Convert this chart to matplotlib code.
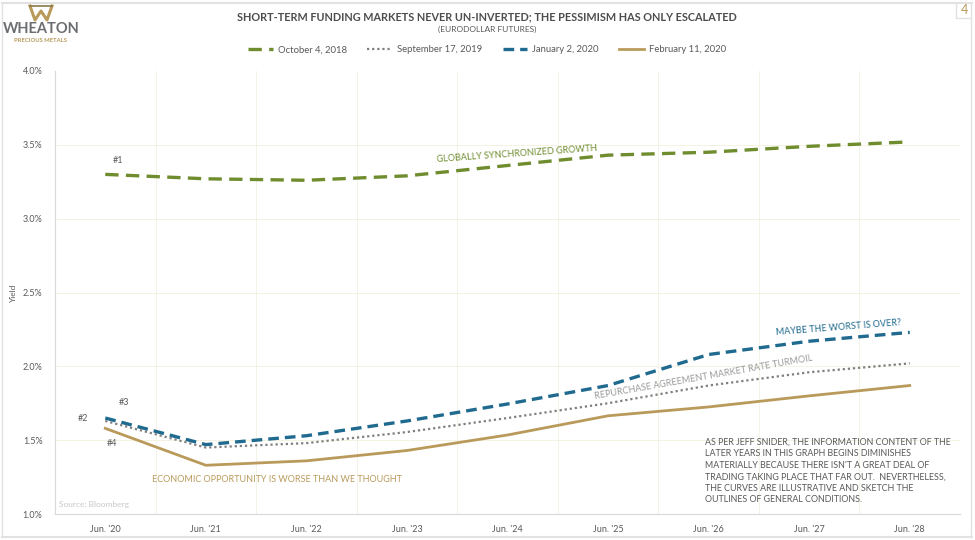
import matplotlib
matplotlib.use("Agg")
import matplotlib.pyplot as plt
from matplotlib.lines import Line2D
import numpy as np

plt.rcParams['font.family'] = ['Lato', 'DejaVu Sans']

categories = ["Jun. '20", "Jun. '21", "Jun. '22", "Jun. '23", "Jun. '24",
              "Jun. '25", "Jun. '26", "Jun. '27", "Jun. '28"]
oct_2018 = [3.30, 3.27, 3.26, 3.29, 3.36, 3.43, 3.45, 3.49, 3.52]
sep_2019 = [1.63, 1.45, 1.48, 1.555, 1.65, 1.75, 1.87, 1.96, 2.02]
jan_2020 = [1.65, 1.47, 1.53, 1.63, 1.745, 1.87, 2.08, 2.17, 2.23]
feb_2020 = [1.58, 1.33, 1.36, 1.43, 1.535, 1.665, 1.725, 1.80, 1.87]
series_labels = ["October 4, 2018", "September 17, 2019", "January 2, 2020", "February 11, 2020"]
yticks = [1.0, 1.5, 2.0, 2.5, 3.0, 3.5, 4.0]

GREEN = "#6f8d2f"
GREY = "#7f7f7f"
BLUE = "#1f6a8e"
TAN = "#b99a5b"
TXT = "#595959"

fig = plt.figure(figsize=(9.75, 5.4), dpi=100)
W, H = 975, 540
ax = fig.add_axes([55 / W, 1 - 514 / H, (960 - 55) / W, (514 - 71) / H])

x = np.arange(len(categories))
ax.plot(x, oct_2018, color=GREEN, lw=2.4, dashes=(4, 2.2))
ax.plot(x, sep_2019, color=GREY, lw=1.6, dashes=(1, 1.3))
ax.plot(x, jan_2020, color=BLUE, lw=2.4, dashes=(3.2, 1.8))
ax.plot(x, feb_2020, color=TAN, lw=2.0)

ax.set_xlim(-0.5, 8.5)
ax.set_ylim(1.0, 4.0)
ax.set_yticks(yticks)
ax.set_yticklabels([f"{v:.1f}%" for v in yticks], fontsize=6.5, color=TXT)
ax.set_xticks(x)
ax.set_xticklabels(categories, fontsize=6.5, color=TXT)
ax.tick_params(length=0, pad=8)
ax.tick_params(axis='y', pad=9)
for yv in yticks[1:-1]:
    ax.axhline(yv, color="#f3f1dc", lw=0.6, zorder=0)
for xv in np.arange(0.5, 8, 1.0):
    ax.axvline(xv, color="#f3f1e4", lw=0.6, zorder=0)
for s in ['top', 'right']:
    ax.spines[s].set_visible(False)
ax.spines['left'].set_color("#d9d9d9")
ax.spines['bottom'].set_color("#d9d9d9")
ax.spines['left'].set_linewidth(0.8)
ax.spines['bottom'].set_linewidth(0.8)
ax.set_ylabel("Yield", fontsize=6, color=TXT, labelpad=4)

# annotations
ax.text(0.07, 3.38, "#1", fontsize=6.5, color=TXT)
ax.text(-0.17, 1.645, "#2", fontsize=6.5, color=TXT, ha='right', va='center')
ax.text(0.13, 1.74, "#3", fontsize=6.5, color=TXT)
ax.text(0.01, 1.475, "#4", fontsize=6.5, color=TXT, va='center')
ax.text(4.09, 3.44, "GLOBALLY SYNCHRONIZED GROWTH", fontsize=6.5, color=GREEN,
        rotation=4, ha='center', va='center')
ax.text(7.29, 2.265, "MAYBE THE WORST IS OVER?", fontsize=6.5, color=BLUE,
        rotation=4.5, ha='center', va='center')
ax.text(5.95, 1.925, "REPURCHASE AGREEMENT MARKET RATE TURMOIL", fontsize=6.5, color="#9a9a9a",
        rotation=10, ha='center', va='center')
ax.text(1.71, 1.235, "ECONOMIC OPPORTUNITY IS WORSE THAN WE THOUGHT", fontsize=6.5, color=TAN,
        ha='center', va='center')
ax.text(-0.46, 1.065, "Source: Bloomberg", fontsize=6, color="#c8c8c8", va='center')
note = ("AS PER JEFF SNIDER, THE INFORMATION CONTENT OF THE\n"
        "LATER YEARS IN THIS GRAPH BEGINS DIMINISHES\n"
        "MATERIALLY BECAUSE THERE ISN'T A GREAT DEAL OF\n"
        "TRADING TAKING PLACE THAT FAR OUT.  NEVERTHELESS,\n"
        "THE CURVES ARE ILLUSTRATIVE AND SKETCH THE\n"
        "OUTLINES OF GENERAL CONDITIONS.")
ax.text(5.96, 1.515, note, fontsize=6.4, color=TXT, va='top', ha='left', linespacing=1.35)

# titles
fig.text(487 / W, 1 - 17 / H, "SHORT-TERM FUNDING MARKETS NEVER UN-INVERTED; THE PESSIMISM HAS ONLY ESCALATED",
         fontsize=7.8, fontweight='bold', color="#4d4d4d", ha='center', va='center')
fig.text(487 / W, 1 - 29 / H, "(EURODOLLAR FUTURES)", fontsize=6, color=TXT, ha='center', va='center')

handles = [Line2D([], [], color=GREEN, lw=2.4, dashes=(4, 2.2)),
           Line2D([], [], color=GREY, lw=1.6, dashes=(1, 1.3)),
           Line2D([], [], color=BLUE, lw=2.4, dashes=(3.2, 1.8)),
           Line2D([], [], color=TAN, lw=2.0)]
leg = fig.legend(handles, series_labels, loc='center', bbox_to_anchor=(487 / W, 1 - 50 / H),
                 ncol=4, frameon=False, fontsize=6.8, handlelength=2.6, columnspacing=2.2,
                 handletextpad=0.5)
for t in leg.get_texts():
    t.set_color(TXT)

# logo
fig.text(41 / W, 1 - 29 / H, "WHEATON", fontsize=10.5, fontweight='bold', color="#6d6e71",
         ha='center', va='center')
fig.text(41 / W, 1 - 40 / H, "PRECIOUS METALS", fontsize=4.2, fontweight='bold', color=TAN,
         ha='center', va='center')
wx = np.array([30, 35, 41, 47, 52]) / W
wy = 1 - np.array([6, 20, 11, 20, 6]) / H
fig.add_artist(Line2D(wx, wy, color=TAN, lw=2.2))
fig.add_artist(Line2D([30 / W, 52 / W], [1 - 6 / H, 1 - 6 / H], color="#8a7a4a", lw=1.2))

# frame and page number
fig.add_artist(Line2D([2 / W, 972 / W], [1 - 3 / H, 1 - 3 / H], color="#e2e2e2", lw=1.5))
fig.add_artist(Line2D([2 / W, 972 / W], [1 - 537 / H, 1 - 537 / H], color="#e2e2e2", lw=1.5))
fig.add_artist(Line2D([2 / W, 2 / W], [1 - 3 / H, 1 - 537 / H], color="#e2e2e2", lw=1.0))
fig.add_artist(Line2D([971 / W, 971 / W], [1 - 3 / H, 1 - 537 / H], color="#e2e2e2", lw=1.0))
fig.add_artist(Line2D([956 / W, 956 / W, 971 / W], [1 - 3 / H, 1 - 18 / H, 1 - 18 / H], color="#e2e2e2", lw=1.0))
fig.text(964 / W, 1 - 10 / H, "4", fontsize=9, color=TAN, ha='center', va='center')

fig.savefig("out.png", dpi=100)
